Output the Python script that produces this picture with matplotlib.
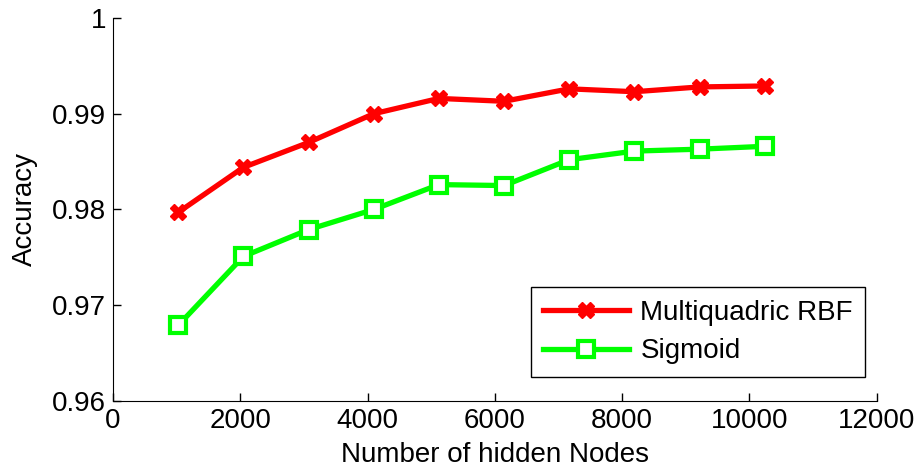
import matplotlib
matplotlib.use('Agg')
import matplotlib.pyplot as plt
import numpy as np

# hidden node counts and accuracies
nodes = [1024, 2048, 3072, 4096, 5120, 6144, 7168, 8192, 9216, 10240]
acc_rbf = [0.9797, 0.9844, 0.9870, 0.9900, 0.9916, 0.9913, 0.9926, 0.9923, 0.9928, 0.9929]
acc_sig = [0.9679, 0.9751, 0.9779, 0.9800, 0.9826, 0.9825, 0.9852, 0.9861, 0.9863, 0.9866]

plt.rcParams['font.family'] = ['Liberation Sans', 'DejaVu Sans']
plt.rcParams['font.size'] = 20

fig = plt.figure(figsize=(9.19, 4.72), dpi=100)
ax = fig.add_axes([0.123, 0.1504, 0.831, 0.8115])

ax.plot(nodes, acc_rbf, color='#ff0000', lw=3.8, marker='X', ms=12,
        mec='#ff0000', mfc='#ff0000', label='Multiquadric RBF')
ax.plot(nodes, acc_sig, color='#00ff00', lw=3.8, marker='s', ms=11,
        mec='#00ff00', mfc='white', mew=3, label='Sigmoid')

ax.set_xlim(0, 12000)
ax.set_ylim(0.96, 1.0)
ax.set_xticks(np.arange(0, 12001, 2000))
ax.set_yticks([0.96, 0.97, 0.98, 0.99, 1.0])
ax.set_yticklabels(['0.96', '0.97', '0.98', '0.99', '1'])
ax.tick_params(direction='in', length=6, width=1, pad=5)

ax.spines['top'].set_visible(False)
ax.spines['right'].set_visible(False)

ax.set_xlabel('Number of hidden Nodes', labelpad=6)
ax.set_ylabel('Accuracy', labelpad=10)

leg = ax.legend(loc='lower right', bbox_to_anchor=(0.985, 0.063), fancybox=False,
                edgecolor='black', framealpha=1, handlelength=3.1,
                handletextpad=0.4, borderpad=0.45, labelspacing=0.45,
                borderaxespad=0, fontsize=20)
leg.get_frame().set_linewidth(1.0)

fig.savefig('out.png', dpi=100)
